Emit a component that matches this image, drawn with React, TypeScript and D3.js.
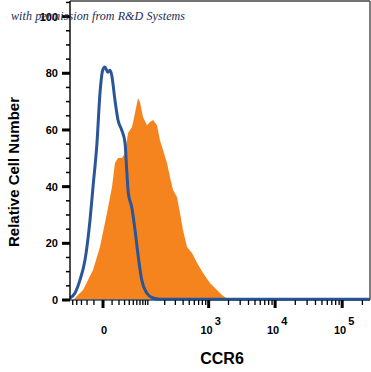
import React, { useEffect, useRef } from "react";
import * as d3 from "d3";

// isotype control (blue line) - fluorescence value, % of max
const isoX = [-57.6, -44.2, -32.9, -23.4, -15.4, -11.2, -6.3, -3.0, -0.3, 1.9, 4.8, 7.4, 9.5, 13.9, 18.4, 24.6, 30.9, 34.4, 37.9, 45.9, 54.7, 64.5, 75.9, 95.2, 124.8, 166, 300, 1000, 10000, 100000, 259700];
const isoY = [0.7, 2.5, 7.1, 14.1, 28.2, 39.9, 55.4, 73.0, 81.1, 82.2, 80.4, 81.1, 79.4, 70.5, 63.5, 60.0, 55.4, 45.9, 37.7, 32.8, 24.7, 15.2, 7.1, 2.5, 0.7, 0.3, 0.3, 0.3, 0.3, 0.3, 0.3];

// CCR6 stained (orange fill)
const ccrX = [-49.3, -27.0, -11.2, -3.0, 4.0, 9.9, 13.9, 18.4, 25.2, 30.9, 37.2, 46.7, 54.7, 63.6, 70.1, 80.6, 96.5, 109.9, 124.8, 147.2, 166, 187, 218.6, 245, 275, 319, 357, 398, 461, 552, 661, 818, 1047, 1339, 1595, 1899];
const ccrY = [0, 3.5, 10.6, 18.7, 30.7, 39.9, 48.3, 50.1, 50.1, 51.9, 58.9, 61.0, 66.0, 71.3, 69.8, 64.6, 61.7, 62.8, 63.5, 61.7, 56.4, 52.9, 48.3, 43.4, 38.8, 36.3, 30.7, 24.7, 18.7, 16.6, 13.1, 9.5, 6.0, 3.5, 1.8, 0.4];

const yMajor = [0, 20, 40, 60, 80, 100];
const yMinor = [5, 10, 15, 25, 30, 35, 45, 50, 55, 65, 70, 75, 85, 90, 95, 105];
const xMajor = [0, 1000, 10000, 100000];
const xMajorLabels = ["0", "3", "4", "5"];
const xMinor = [-50, -40, -30, -20, -10, 10, 20, 30, 40, 50, 60, 70, 80, 90, 100, 200, 300, 400, 500, 600, 700, 800, 900,
  2000, 3000, 4000, 5000, 6000, 7000, 8000, 9000, 20000, 30000, 40000, 50000, 60000, 70000, 80000, 90000, 200000];

export default function App() {
  const ref = useRef<SVGSVGElement>(null);

  useEffect(() => {
    const svg = d3.select(ref.current);
    svg.selectAll("*").remove();

    const left = 70, right = 370, top = 1, bottom = 300;

    const x = d3.scaleSymlog().constant(27.4).domain([-57.6, 259700]).range([left, right]);
    const y = d3.scaleLinear().domain([0, 105.5]).range([bottom, top]);

    svg.append("rect").attr("width", 371).attr("height", 372).attr("fill", "#fff");

    // orange filled histogram
    const ccr = ccrX.map((v, i) => [v, ccrY[i]] as [number, number]);
    const area = d3.area<[number, number]>()
      .x(d => x(d[0]))
      .y0(y(0))
      .y1(d => y(d[1]))
      .curve(d3.curveLinear);
    svg.append("path").datum(ccr).attr("d", area).attr("fill", "#f5841f");

    // blue isotype line
    const iso = isoX.map((v, i) => [v, isoY[i]] as [number, number]);
    const line = d3.line<[number, number]>()
      .x(d => x(d[0]))
      .y(d => y(d[1]))
      .curve(d3.curveMonotoneX);
    svg.append("path").datum(iso).attr("d", line)
      .attr("fill", "none").attr("stroke", "#2a5599").attr("stroke-width", 3)
      .attr("stroke-linejoin", "round");

    // frame
    svg.append("line").attr("x1", left).attr("x2", right).attr("y1", top).attr("y2", top)
      .attr("stroke", "#444").attr("stroke-width", 1.5);
    svg.append("line").attr("x1", right).attr("x2", right).attr("y1", top).attr("y2", bottom)
      .attr("stroke", "#555").attr("stroke-width", 1.5);
    svg.append("line").attr("x1", left).attr("x2", left).attr("y1", top).attr("y2", bottom)
      .attr("stroke", "#111").attr("stroke-width", 1.5);
    svg.append("line").attr("x1", left).attr("x2", right).attr("y1", bottom).attr("y2", bottom)
      .attr("stroke", "#2a4f80").attr("stroke-width", 1.5);

    // y ticks
    const g = svg.append("g");
    g.selectAll(".ymin").data(yMinor).join("line")
      .attr("x1", left - 4).attr("x2", left).attr("y1", d => y(d)).attr("y2", d => y(d))
      .attr("stroke", "#000").attr("stroke-width", 1.5);
    g.selectAll(".ymaj").data(yMajor).join("line")
      .attr("x1", left - 8).attr("x2", left).attr("y1", d => y(d)).attr("y2", d => y(d))
      .attr("stroke", "#000").attr("stroke-width", 3);
    g.selectAll(".ylab").data(yMajor).join("text")
      .attr("x", left - 12).attr("y", d => y(d) + 4)
      .attr("text-anchor", "end")
      .attr("font-family", "Liberation Sans, Arial, sans-serif")
      .attr("font-weight", "bold").attr("font-size", 11)
      .text(d => d);

    // x ticks
    const gx = svg.append("g");
    gx.selectAll(".xmin").data(xMinor).join("line")
      .attr("x1", d => x(d)).attr("x2", d => x(d)).attr("y1", bottom).attr("y2", bottom + 5)
      .attr("stroke", "#000").attr("stroke-width", 1.3);
    gx.selectAll(".xmaj").data(xMajor).join("line")
      .attr("x1", d => x(d)).attr("x2", d => x(d)).attr("y1", bottom).attr("y2", bottom + 8)
      .attr("stroke", "#000").attr("stroke-width", 3);

    const labs = gx.selectAll(".xlab").data(xMajor).join("text")
      .attr("x", d => x(d) + (d === 0 ? 1 : 2)).attr("y", 334)
      .attr("text-anchor", "middle")
      .attr("font-family", "Liberation Sans, Arial, sans-serif")
      .attr("font-weight", "bold").attr("font-size", 11);
    labs.each(function (d, i) {
      const t = d3.select(this);
      if (d === 0) {
        t.text("0");
      } else {
        t.append("tspan").text("10");
        t.append("tspan").attr("dy", -9).attr("dx", 2).attr("font-size", 11).text(xMajorLabels[i]);
      }
    });

    // axis titles
    svg.append("text").attr("x", 222).attr("y", 364)
      .attr("text-anchor", "middle")
      .attr("font-family", "Liberation Sans, Arial, sans-serif")
      .attr("font-weight", "bold").attr("font-size", 16)
      .text("CCR6");
    svg.append("text")
      .attr("transform", "translate(19,172) rotate(-90)")
      .attr("text-anchor", "middle")
      .attr("font-family", "Liberation Sans, Arial, sans-serif")
      .attr("font-weight", "bold").attr("font-size", 15)
      .text("Relative Cell Number");

    // watermark
    svg.append("text").attr("x", 11).attr("y", 20)
      .attr("font-family", "Liberation Serif, serif")
      .attr("font-style", "italic").attr("font-size", 12)
      .attr("textLength", 174)
      .attr("fill", "#1c2a55")
      .text("with permission from R&D Systems");
  }, []);

  return (
    <svg ref={ref} width={371} height={372}
      style={{ position: "absolute", left: 0, top: 0, display: "block" }} />
  );
}
